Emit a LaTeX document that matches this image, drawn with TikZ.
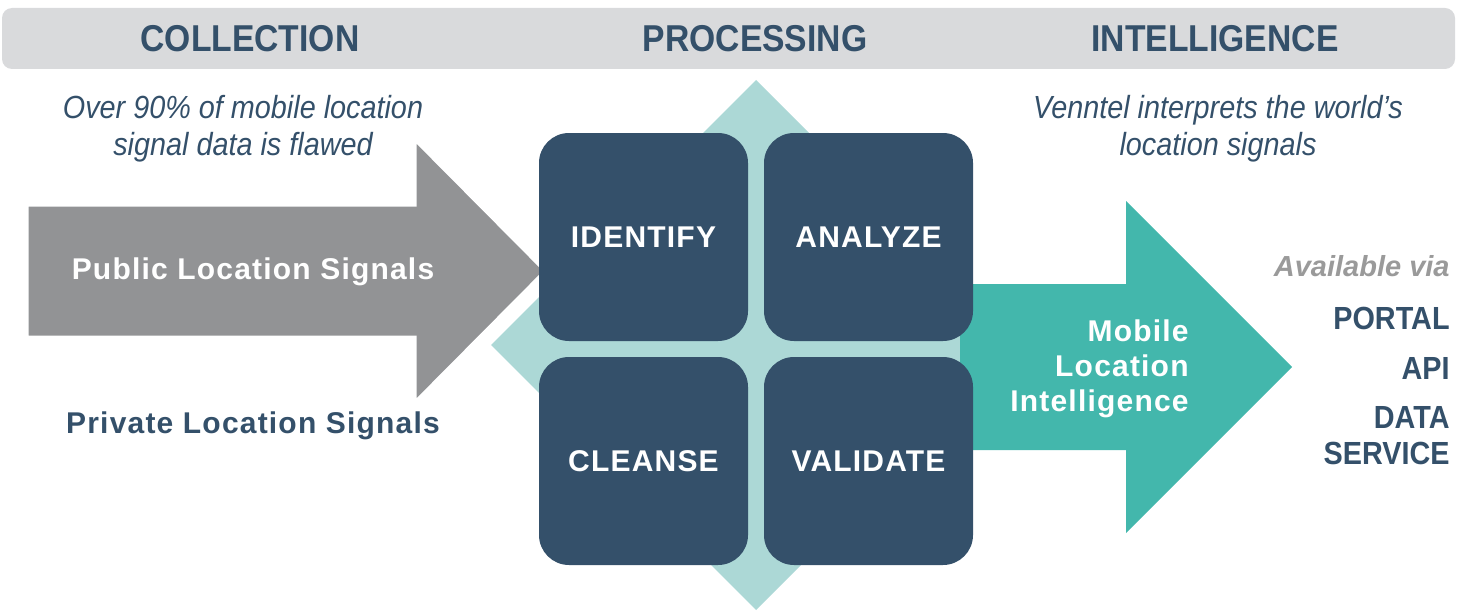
\documentclass[tikz,border=0pt]{standalone}
\usepackage{fontspec}
\setmainfont{Liberation Sans}
\newfontfamily\narrowfont[FakeStretch=0.9]{Liberation Sans}
\newfontfamily\spacedfont[LetterSpace=4]{Liberation Sans}

\definecolor{headbg}{HTML}{D9DADC}
\definecolor{navy}{HTML}{34506A}
\definecolor{arrowgrey}{HTML}{929395}
\definecolor{paleteal}{HTML}{ACD8D6}
\definecolor{teal}{HTML}{43B7AC}
\definecolor{viagrey}{HTML}{9A9A9A}

\begin{document}
\begin{tikzpicture}[x=0.5pt, y=-0.5pt, every node/.style={inner sep=0pt},
    head/.style={text=navy, font=\narrowfont\bfseries\fontsize{18.7}{20}\selectfont},
    note/.style={text=navy, align=center, font=\narrowfont\itshape\fontsize{16}{18.5}\selectfont},
    box/.style={fill=navy, rounded corners=15pt, minimum width=104.5pt, minimum height=104pt,
        text=white, font=\spacedfont\bfseries\fontsize{15}{18}\selectfont},
    signal/.style={font=\spacedfont\bfseries\fontsize{15}{18}\selectfont},
    via/.style={anchor=east, text=navy, font=\narrowfont\bfseries\fontsize{16}{18}\selectfont}]
    \useasboundingbox (0,0) rectangle (1476,610);

    % header bar
    \fill[headbg, rounded corners=5pt] (2,8) rectangle (1455,69);
    \node[head] (collection) at (250,39) {COLLECTION};
    \node[head] (processing) at (755,39) {PROCESSING};
    \node[head] (intelligence) at (1215,39) {INTELLIGENCE};

    \node[note] (flawed) at (243,129) {Over 90\% of mobile location\\ signal data is flawed};
    \node[note] (interprets) at (1218,129) {Venntel interprets the world’s\\ location signals};

    % shapes behind the boxes
    \fill[paleteal] (756,80) -- (1021,345) -- (756,610) -- (491,345) -- cycle;
    \filldraw[fill=arrowgrey, draw=white, line width=1.5pt]
        (27,205) -- (415,205) -- (415,140) -- (545,271) -- (415,402) -- (415,337) -- (27,337) -- cycle;
    \fill[teal] (960,284) -- (1126,284) -- (1126,201) -- (1292,367) -- (1126,533) -- (1126,450) -- (960,450) -- cycle;

    \node[signal, text=white] (public) at (253,272) {Public Location Signals};
    \node[signal, text=navy] (private) at (253,426) {Private Location Signals};

    \node[box] (identify) at (643.5,237) {IDENTIFY};
    \node[box] (analyze) at (868.5,237) {ANALYZE};
    \node[box] (cleanse) at (643.5,461) {CLEANSE};
    \node[box] (validate) at (868.5,461) {VALIDATE};

    \node[anchor=east, align=right, text=white, font=\spacedfont\bfseries\fontsize{15}{17.5}\selectfont]
        (mli) at (1189,369) {Mobile\\Location\\Intelligence};

    \node[via, text=viagrey, font=\bfseries\itshape\fontsize{14.5}{17}\selectfont] (available) at (1450,266) {Available via};
    \node[via] (portal) at (1450,318) {PORTAL};
    \node[via] (api) at (1450,368) {API};
    \node[via, align=right] (dataservice) at (1450,436) {DATA\\SERVICE};
\end{tikzpicture}
\end{document}
